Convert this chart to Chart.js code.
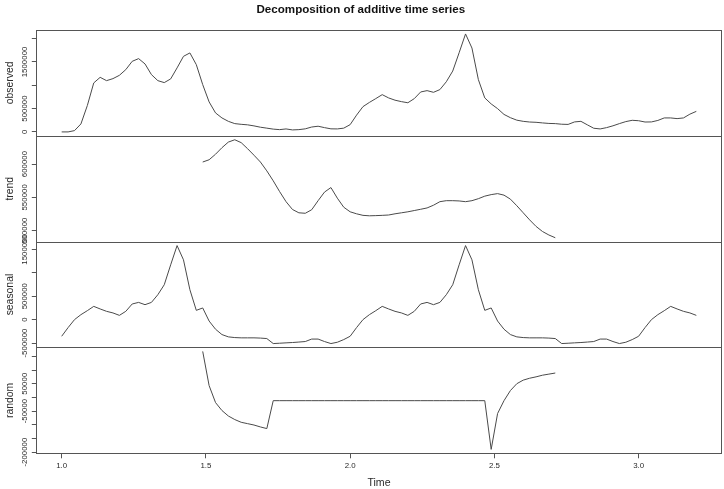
<!DOCTYPE html>
<html>
<head>
<meta charset="utf-8">
<script src="https://cdn.jsdelivr.net/npm/chart.js@4.4.1/dist/chart.umd.min.js"></script>
<style>
html,body{margin:0;padding:0;background:#fff;}
#wrap{position:relative;width:724px;height:489px;}
</style>
</head>
<body>
<div id="wrap"><canvas id="c" width="724" height="489"></canvas></div>
<script>
// ---- data ----
const startTime = 1;
const frequency = 45;
const chartTitle = 'Decomposition of additive time series';
const panelNames = ['observed', 'trend', 'seasonal', 'random'];
const xTitle = 'Time';

const observed = [
  0, 0, 28000, 171000, 564000, 1050000, 1170000, 1099000, 1142000, 1213000,
  1335000, 1513000, 1571000, 1457000, 1228000, 1099000, 1057000, 1136000, 1372000, 1620000,
  1693000, 1442000, 1014000, 643000, 407000, 300000, 227000, 178000, 163000, 152000,
  129000, 101000, 81000, 60000, 49000, 64000, 43000, 49000, 66000, 105000,
  122000, 92000, 66000, 64000, 81000, 156000, 360000, 542000, 632000, 714000,
  799000, 729000, 680000, 649000, 625000, 713000, 856000, 885000, 849000, 907000,
  1075000, 1305000, 1697000, 2100000, 1798000, 1121000, 729000, 600000, 499000, 375000,
  305000, 252000, 227000, 212000, 206000, 193000, 182000, 178000, 165000, 161000,
  214000, 227000, 152000, 79000, 64000, 92000, 131000, 178000, 221000, 249000,
  240000, 212000, 214000, 246000, 300000, 300000, 285000, 300000, 381000, 441000
];

const trend = [
  null, null, null, null, null, null, null, null, null, null,
  null, null, null, null, null, null, null, null, null, null,
  null, null,
  603000, 606400, 614700, 624500, 632900, 636400, 632100, 623000, 613200, 603000,
  589700, 574800, 558600, 543500, 531800, 526800, 526100, 531400, 545000, 557900,
  564700, 548800, 535200, 528300, 525300, 523000, 522300, 522600, 523000, 523500,
  525300, 526800, 528300, 530200, 532100, 534100, 538200, 543500, 545000, 545000,
  544600, 543500, 545000, 548000, 551800, 554100, 555600, 553300, 547300, 537400,
  526800, 516200, 506400, 498800, 493500, 489400,
  null, null, null, null, null, null, null, null, null, null,
  null, null, null, null, null, null, null, null, null, null,
  null, null
];

const seasonal = [
  -355000, -170000, 0, 106000, 191000, 283000, 228000, 177000, 143000, 91000,
  177000, 334000, 368000, 319000, 368000, 532000, 745000, 1170000, 1581000, 1277000,
  638000, 198000, 249000, -30000, -205000, -319000, -368000, -383000, -389000, -389000,
  -389000, -394000, -404000, -511000, -504000, -496000, -489000, -479000, -468000, -415000,
  -415000, -468000, -511000, -483000, -426000,
  -355000, -170000, 0, 106000, 191000, 283000, 228000, 177000, 143000, 91000,
  177000, 334000, 368000, 319000, 368000, 532000, 745000, 1170000, 1581000, 1277000,
  638000, 198000, 249000, -30000, -205000, -319000, -368000, -383000, -389000, -389000,
  -389000, -394000, -404000, -511000, -504000, -496000, -489000, -479000, -468000, -415000,
  -415000, -468000, -511000, -483000, -426000,
  -355000, -170000, 0, 106000, 191000, 283000, 228000, 177000, 143000, 91000
];

const random = [
  null, null, null, null, null, null, null, null, null, null,
  null, null, null, null, null, null, null, null, null, null,
  null, null,
  168000, 43000, -19000, -48000, -68000, -81000, -91000, -96000, -101000, -108000,
  -114000,
  -12000, -12000, -12000, -12000, -12000, -12000, -12000, -12000, -12000, -12000,
  -12000, -12000, -12000, -12000, -12000, -12000, -12000, -12000, -12000, -12000,
  -12000, -12000, -12000, -12000, -12000, -12000, -12000, -12000, -12000, -12000,
  -12000, -12000, -12000, -12000,
  -190000, -59000, -12000, 25000, 50000, 63000, 70000, 75000, 81000, 85000, 89000,
  null, null, null, null, null, null, null, null, null, null,
  null, null, null, null, null, null, null, null, null, null,
  null, null
];

const xTicks = [1.0, 1.5, 2.0, 2.5, 3.0];
const observedTicks = [0, 500000, 1000000, 1500000, 2000000];
const observedTickLabels = [0, 500000, 1500000];
const trendTicks = [500000, 550000, 600000];
const trendTickLabels = [500000, 550000, 600000];
const seasonalTicks = [-500000, 0, 500000, 1000000, 1500000];
const seasonalTickLabels = [-500000, 0, 500000, 1500000];
const randomTicks = [-200000, -150000, -100000, -50000, 0, 50000, 100000, 150000];
const randomTickLabels = [-200000, -50000, 50000];

// ---- presentation ----
const FONT = '"Liberation Sans", Arial, Helvetica, sans-serif';
const lineColor = '#4a4a4a';
const frameColor = '#555';
const textColor = '#2a2a2a';
const axisWidth = 36.3;
const xAxisHeight = 35.7;

const times = observed.map((_, i) => startTime + i / frequency);
const pts = arr => arr.map((v, i) => ({ x: times[i], y: v })).filter(p => p.y !== null);

const tMin = times[0], tMax = times[times.length - 1], tExt = (tMax - tMin) * 0.04;

function yScale(values, ticks, title, weight) {
  const vals = values.filter(v => v !== null);
  const lo = Math.min(...vals), hi = Math.max(...vals), ext = (hi - lo) * 0.04;
  return {
    type: 'linear', position: 'left', stack: 'panels', stackWeight: 1, weight: weight,
    min: lo - ext, max: hi + ext,
    afterBuildTicks: s => { s.ticks = ticks.map(v => ({ value: v })); },
    afterFit: s => { s.width = axisWidth; },
    ticks: { display: false },
    grid: { display: true, drawOnChartArea: false, drawTicks: true, tickLength: 4.5, color: frameColor, lineWidth: 1 },
    border: { display: false },
    title: { display: true, text: title, color: textColor, font: { family: FONT, size: 10.4 }, padding: { top: 4.2, bottom: 0 } }
  };
}

const tickLabelSets = {
  yO: observedTickLabels, yT: trendTickLabels, yS: seasonalTickLabels, yR: randomTickLabels
};

const panelPlugin = {
  id: 'panelFrames',
  afterDraw(chart) {
    const ctx = chart.ctx, a = chart.chartArea;
    ctx.save();
    ctx.strokeStyle = frameColor;
    ctx.lineWidth = 1;
    for (const id of ['yO', 'yT', 'yS', 'yR']) {
      const s = chart.scales[id];
      ctx.strokeRect(Math.round(a.left) + 0.5, Math.round(s.top) + 0.5,
        Math.round(a.right) - Math.round(a.left) - 1, Math.round(s.bottom) - Math.round(s.top));
      ctx.fillStyle = textColor;
      ctx.font = '7.9px ' + FONT;
      ctx.textAlign = 'center';
      ctx.textBaseline = 'alphabetic';
      for (const v of tickLabelSets[id]) {
        const y = s.getPixelForValue(v);
        ctx.save();
        ctx.translate(a.left - 9.6, y);
        ctx.rotate(-Math.PI / 2);
        ctx.fillText(String(v), 0, 0);
        ctx.restore();
      }
    }
    ctx.restore();
  }
};

const ds = (data, axis) => ({
  data: pts(data), yAxisID: axis, xAxisID: 'x',
  borderColor: lineColor, borderWidth: 1, pointRadius: 0, tension: 0, fill: false
});

new Chart(document.getElementById('c'), {
  type: 'line',
  data: {
    datasets: [ds(observed, 'yO'), ds(trend, 'yT'), ds(seasonal, 'yS'), ds(random, 'yR')]
  },
  options: {
    responsive: false, animation: false, devicePixelRatio: 1,
    parsing: false, normalized: true,
    layout: { padding: { left: 0, right: 2.3, top: 0, bottom: 0 } },
    plugins: {
      legend: { display: false },
      tooltip: { enabled: false },
      title: {
        display: true, text: chartTitle, color: '#111',
        font: { family: FONT, size: 11.6, weight: 'bold', lineHeight: 1.2 },
        padding: { top: 3, bottom: 13.1 }
      }
    },
    scales: {
      x: {
        type: 'linear', position: 'bottom', min: tMin - tExt, max: tMax + tExt,
        afterBuildTicks: s => { s.ticks = xTicks.map(v => ({ value: v })); },
        afterFit: s => { s.height = xAxisHeight; },
        ticks: { autoSkip: false, minRotation: 0, maxRotation: 0, padding: 3, color: textColor,
          font: { family: FONT, size: 7.9 }, callback: v => Number(v).toFixed(1) },
        grid: { display: true, drawOnChartArea: false, drawTicks: true, tickLength: 5, color: frameColor },
        border: { display: false },
        title: { display: true, text: xTitle, color: textColor, font: { family: FONT, size: 10.6 }, padding: { top: 0, bottom: 0 } }
      },
      yO: yScale(observed, observedTicks, panelNames[0], 4),
      yT: yScale(trend, trendTicks, panelNames[1], 3),
      yS: yScale(seasonal, seasonalTicks, panelNames[2], 2),
      yR: yScale(random, randomTicks, panelNames[3], 1)
    }
  },
  plugins: [panelPlugin]
});
</script>
</body>
</html>
